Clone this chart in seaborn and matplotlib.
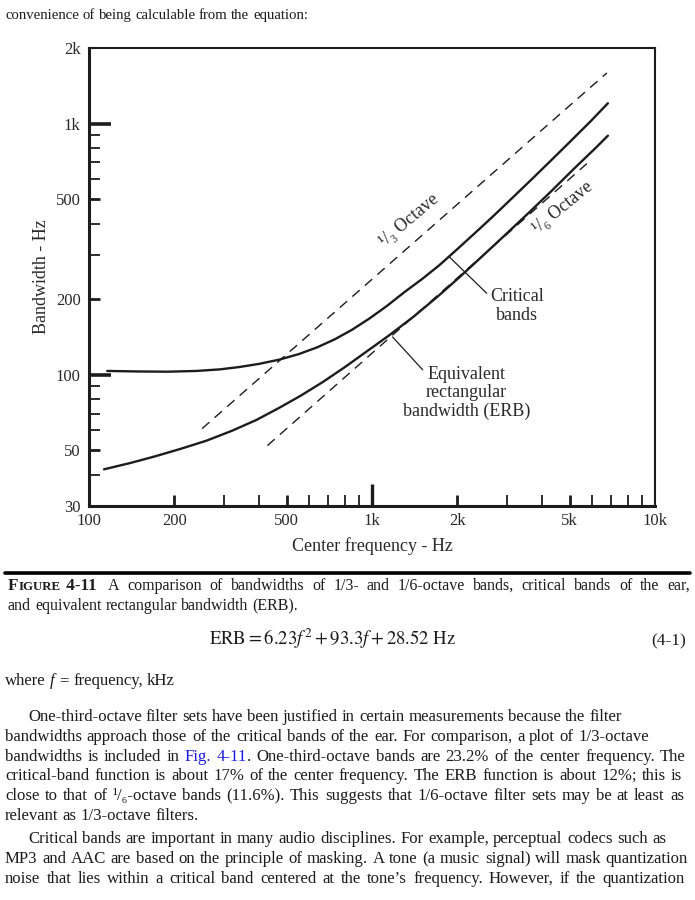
import re
import matplotlib
matplotlib.use('Agg')
import numpy as np
import pandas as pd
import matplotlib.pyplot as plt
import seaborn as sns
from matplotlib.ticker import FixedLocator, FixedFormatter, NullFormatter
from matplotlib.lines import Line2D

# ---- values (Hz) ----
crit_freq = [116, 150, 190, 240, 290, 340, 400, 470, 550, 640, 740, 850, 980, 1130, 1300, 1500,
             1730, 2000, 2320, 2700, 3150, 3700, 4350, 5100, 5950, 6817]
crit_bw = [103.5, 103.0, 102.8, 103.5, 105.0, 107.3, 110.5, 114.8, 120.7, 128.5, 138.5, 151, 167.5,
           188, 213, 240, 273, 316, 368, 431, 509, 606, 724, 864, 1027, 1205]

erb_freq = [113, 140, 170, 210, 260, 320, 390, 470, 560, 670, 800, 960, 1150, 1400, 1700, 2050,
            2450, 3000, 3600, 4300, 5200, 6100, 6817]
erb_bw = [42.0, 44.5, 47.2, 50.6, 54.6, 59.8, 66.0, 73.8, 82.5, 93.5, 107, 124, 143.5, 170, 204, 246,
          296, 366, 444, 538, 665, 790, 895]

third_freq = [251, 6761]
third_bw = [61.0, 1592]
sixth_freq = [427, 5745]
sixth_bw = [52.2, 693]

x_ticks = [100, 200, 500, 1000, 2000, 5000, 10000]
x_labels = ['100', '200', '500', '1k', '2k', '5k', '10k']
x_minor = [300, 400, 600, 700, 800, 900, 3000, 4000, 6000, 7000, 8000, 9000]
y_ticks = [30, 50, 100, 200, 500, 1000, 2000]
y_labels = ['30', '50', '100', '200', '500', '1k', '2k']
y_minor = [40, 60, 70, 80, 90, 300, 400, 600, 700, 800, 900]

W, H = 695, 900
INK = '#1c1c1c'
LINK = '#1a1ae0'
SERIF = ['Liberation Serif', 'DejaVu Serif']

sns.set_style('white')
plt.rcParams['font.family'] = SERIF
plt.rcParams['mathtext.fontset'] = 'stix'

fig = plt.figure(figsize=(W / 100, H / 100), dpi=100)
fig.patch.set_facecolor('white')


def fx(x):
    return x / W


def fy(y):
    return 1 - y / H


# -------------------------------------------------------------------------------------------- #
# the chart
ax = fig.add_axes([fx(89), fy(506), (655 - 89) / W, (506 - 48) / H])
ax.set_xscale('log')
ax.set_yscale('log')

crit = pd.DataFrame({'freq': crit_freq, 'bw': crit_bw})
erb = pd.DataFrame({'freq': erb_freq, 'bw': erb_bw})
third = pd.DataFrame({'freq': third_freq, 'bw': third_bw})
sixth = pd.DataFrame({'freq': sixth_freq, 'bw': sixth_bw})

sns.lineplot(data=crit, x='freq', y='bw', ax=ax, color=INK, lw=1.7, sort=False, estimator=None)
sns.lineplot(data=erb, x='freq', y='bw', ax=ax, color=INK, lw=1.7, sort=False, estimator=None)
sns.lineplot(data=third, x='freq', y='bw', ax=ax, color=INK, lw=1.0, sort=False, estimator=None)
ax.lines[-1].set_dashes((7, 5))
sns.lineplot(data=sixth, x='freq', y='bw', ax=ax, color=INK, lw=1.0, sort=False, estimator=None)
ax.lines[-1].set_dashes((7, 5))

ax.set_xlim(100, 10000)
ax.set_ylim(30, 2000)

ax.xaxis.set_major_locator(FixedLocator(x_ticks))
ax.xaxis.set_major_formatter(FixedFormatter(x_labels))
ax.xaxis.set_minor_locator(FixedLocator(x_minor))
ax.xaxis.set_minor_formatter(NullFormatter())
ax.yaxis.set_major_locator(FixedLocator(y_ticks))
ax.yaxis.set_major_formatter(FixedFormatter(y_labels))
ax.yaxis.set_minor_locator(FixedLocator(y_minor))
ax.yaxis.set_minor_formatter(NullFormatter())

ax.tick_params(which='both', direction='in', bottom=True, left=True, top=False, right=False,
               color=INK, labelcolor='#2a2a2a', labelsize=12)
ax.tick_params(which='major', length=8, width=2.0)
ax.tick_params(which='minor', length=8, width=1.3)
ax.tick_params(axis='x', which='major', pad=5)
ax.tick_params(axis='y', which='major', pad=6)

for loc, tick in zip(ax.get_xticks(), ax.xaxis.get_major_ticks()):
    if loc == 1000:
        tick.tick1line.set_markersize(16)
        tick.tick1line.set_markeredgewidth(2.4)
    if loc == 10000:
        tick.tick1line.set_visible(False)
for loc, tick in zip(ax.get_yticks(), ax.yaxis.get_major_ticks()):
    if loc in (100, 1000):
        tick.tick1line.set_markersize(16)
        tick.tick1line.set_markeredgewidth(2.6)
    if loc == 2000:
        tick.tick1line.set_visible(False)

for side in ['left', 'bottom']:
    ax.spines[side].set_linewidth(2.2)
for side in ['top', 'right']:
    ax.spines[side].set_linewidth(1.5)
for s in ax.spines.values():
    s.set_color(INK)

ax.set_xlabel('Center frequency - Hz', fontsize=13, color='#2a2a2a')
ax.set_ylabel('Bandwidth - Hz', fontsize=13, color='#2a2a2a')
ax.xaxis.set_label_coords(0.5, -0.068)
ax.yaxis.set_label_coords(-0.069, 0.5)

# curve labels
ax.text(1357, 412, '¹/₃ Octave', fontsize=13, color='#2a2a2a', rotation=40,
        rotation_mode='anchor', ha='center', va='center')
ax.text(4722, 463, '¹/₆ Octave', fontsize=13, color='#2a2a2a', rotation=39,
        rotation_mode='anchor', ha='center', va='center')

ax.annotate('', xy=(1881, 293.6), xytext=(2543, 211),
            arrowprops=dict(arrowstyle='-', color=INK, lw=0.9, shrinkA=0, shrinkB=0))
ax.text(3247, 188, 'Critical\nbands', fontsize=13, color='#2a2a2a', ha='center', va='center',
        linespacing=1.1)
ax.annotate('', xy=(1182, 141.4), xytext=(1510, 104.6),
            arrowprops=dict(arrowstyle='-', color=INK, lw=0.9, shrinkA=0, shrinkB=0))
ax.text(2160, 84.7, 'Equivalent\nrectangular\nbandwidth (ERB)', fontsize=13, color='#2a2a2a',
        ha='center', va='center', linespacing=1.1)

# -------------------------------------------------------------------------------------------- #
# page text around the chart
renderer = fig.canvas.get_renderer()


def parse(line):
    # {..} = link colour, [..] = italic
    words = []
    for w in line.split(' '):
        segs = []
        for part in re.split(r'(\{[^}]*\}|\[[^\]]*\])', w):
            if part.startswith('{'):
                segs.append((part[1:-1], LINK, 'normal'))
            elif part.startswith('['):
                segs.append((part[1:-1], INK, 'italic'))
            elif part:
                segs.append((part, INK, 'normal'))
        words.append(segs)
    return words


def measure(s, fs, style='normal', **kw):
    t = fig.text(0, 0, s, fontsize=fs, fontstyle=style, **kw)
    w = t.get_window_extent(renderer).width
    t.remove()
    return w


def natural(line, fs):
    words = parse(line)
    total = sum(measure(s, fs, st) for w in words for s, c, st in w)
    return total + 0.25 * fs * 100 / 72 * (len(words) - 1)


def put_line(line, x0, base, fs, x1=None, **kw):
    words = parse(line)
    widths = [[measure(s, fs, st, **kw) for s, c, st in w] for w in words]
    total = sum(sum(ws) for ws in widths)
    gap = 0.25 * fs * 100 / 72
    if x1 is not None and len(words) > 1:
        gap = (x1 - x0 - total) / (len(words) - 1)
    x = x0
    for w, ws in zip(words, widths):
        for (s, c, st), sw in zip(w, ws):
            fig.text(fx(x), fy(base), s, fontsize=fs, color=c, fontstyle=st,
                     ha='left', va='baseline', **kw)
            x += sw + (1 if st == 'italic' else 0)
        x += gap
    return x


para = [
    ('One-third-octave filter sets have been justified in certain measurements because the filter', 28, 721, 622),
    ('bandwidths approach those of the critical bands of the ear. For comparison, a plot of 1/3-octave', 5, 741, 649),
    ('bandwidths is included in {Fig.} {4-11}. One-third-octave bands are 23.2% of the center frequency. The', 5, 761, 686),
    ('critical-band function is about 17% of the center frequency. The ERB function is about 12%; this is', 5, 780, 682),
    ('close to that of ¹/₆-octave bands (11.6%). This suggests that 1/6-octave filter sets may be at least as', 5, 800, 684),
    ('relevant as 1/3-octave filters.', 5, 820, None),
    ('Critical bands are important in many audio disciplines. For example, perceptual codecs such as', 28, 843, 666),
    ('MP3 and AAC are based on the principle of masking. A tone (a music signal) will mask quantization', 5, 863, 688),
    ('noise that lies within a critical band centered at the tone\u2019s frequency. However, if the quantization', 5, 883, 685),
]

# font sizes fitted to the measured line lengths
fs0 = 10.0
ratios = [(x1 - x0) / natural(t, fs0) for t, x0, b, x1 in para if x1 is not None]
fs = fs0 * float(np.median(ratios)) * 0.985

put_line('convenience of being calculable from the equation:', 5, 19, fs * 0.88)

for t, x0, b, x1 in para:
    put_line(t, x0, b, fs, x1)

# caption
fs_cap = fs * 0.96
fig.add_artist(Line2D([fx(5), fx(690)], [fy(573), fy(573)], lw=2.6, color='black'))
xc = 8
for s, size in [('F', fs_cap * 1.06), ('IGURE', fs_cap * 0.8), (' 4-11', fs_cap * 1.06)]:
    fig.text(fx(xc), fy(590), s, fontsize=size, fontweight='bold', color=INK, ha='left', va='baseline')
    xc += measure(s, size, fontweight='bold') + (3 if s.startswith(' ') else 0.5)
put_line('A comparison of bandwidths of 1/3- and 1/6-octave bands, critical bands of the ear,', 108, 590, fs_cap, 690)
put_line('and equivalent rectangular bandwidth (ERB).', 8, 610, fs_cap)

# equation
fig.text(fx(333), fy(645), r'$\mathrm{ERB} = 6.23f^{2} + 93.3f + 28.52\ \mathrm{Hz}$', fontsize=13.5,
         color=INK, ha='center', va='baseline')
fig.text(fx(686), fy(645), '(4-1)', fontsize=12.5, color=INK, ha='right', va='baseline')
put_line('where [f] = frequency, kHz', 5, 685, fs)

fig.savefig('out.png', dpi=100, facecolor='white')
